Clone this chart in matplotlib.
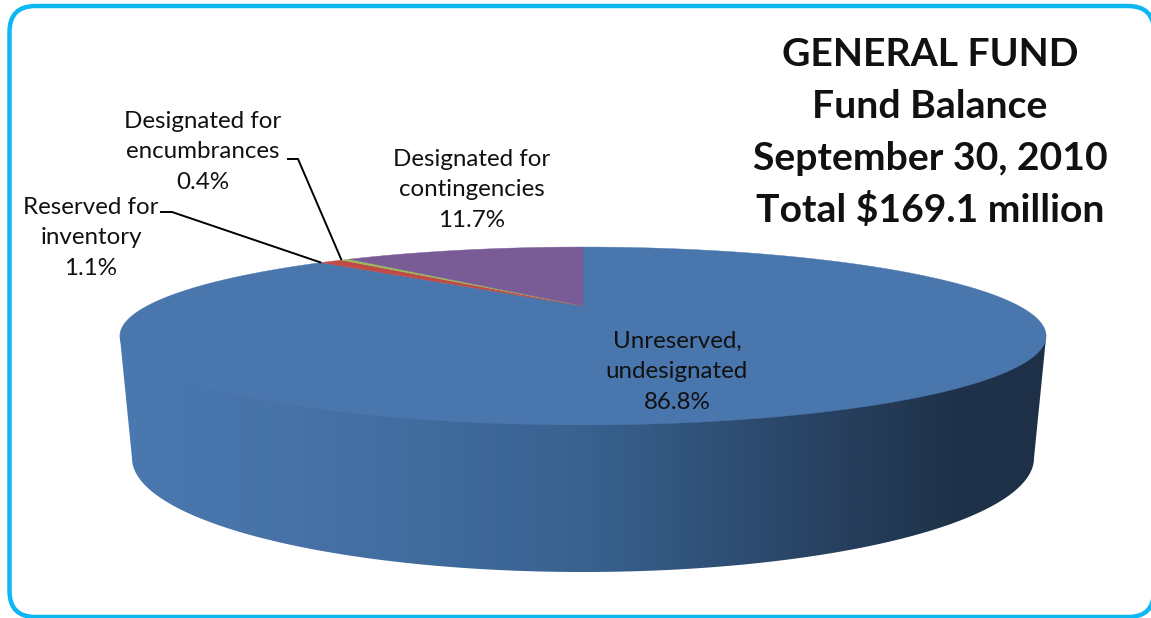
import numpy as np
import matplotlib
matplotlib.use("Agg")
import matplotlib.pyplot as plt
from matplotlib.colors import LinearSegmentedColormap
from matplotlib.patches import FancyBboxPatch, Polygon

plt.rcParams['font.family'] = ['Lato', 'DejaVu Sans']

# slices go clockwise from the top of the pie
categories = ["Unreserved,\nundesignated", "Reserved for\ninventory",
              "Designated for\nencumbrances", "Designated for\ncontingencies"]
shares = [86.8, 1.1, 0.4, 11.7]
colors = ["#4A76AE", "#BE4B48", "#9BBB59", "#795C95"]
title_lines = ["GENERAL FUND", "Fund Balance", "September 30, 2010", "Total $169.1 million"]

# where the labels sit, in pixels
label_pos = [(677, 372), (91, 238), (203, 152), (472, 190)]

cx = 583
k = 60 / 178
radius_x = 436


def project(theta):
    # unit circle seen in perspective, theta clockwise from the back of the pie
    x = np.sin(theta)
    y = np.cos(theta)
    d = 1 + k * y
    return cx + radius_x * x / d, (306 + 24.3 * y) / d


fig = plt.figure(figsize=(11.51, 6.18), dpi=100)
ax = fig.add_axes([0, 0, 1, 1])

# frame
frame = FancyBboxPatch((9.5, 6), 1144.5, 611, boxstyle="round,pad=0,rounding_size=26",
                       fc='white', ec='#0DB7F2', lw=3.2)
ax.add_patch(frame)

# side wall, from the widest points of the top face down to a smaller bottom ellipse
bt = np.linspace(0, np.pi, 300)
bx = 583 + 451 * np.cos(bt)
by = 458 + 114 * np.sin(bt)
wall = Polygon(np.r_[np.c_[[1046], [338]], np.c_[bx, by], np.c_[[120], [338]]],
               closed=True, fc='none', ec='none')
ax.add_patch(wall)
shade = LinearSegmentedColormap.from_list("wall", [
    (0.0, "#4A78B0"), (0.2, "#4672A7"), (0.5, "#396290"),
    (0.8, "#253D5A"), (0.9, "#1F3249"), (1.0, "#1E3048")])
img = ax.imshow(np.linspace(0, 1, 512)[None, :], cmap=shade, aspect='auto',
                extent=(115, 1050, 600, 300), zorder=1)
img.set_clip_path(wall)
ax.set_xlim(0, 1151)
ax.set_ylim(618, 0)
ax.axis('off')

# top face
edges = np.radians(np.cumsum([0] + shares) * 3.6)
for start, end, color in zip(edges[:-1], edges[1:], colors):
    px, py = project(np.linspace(start, end, 400))
    ax.add_patch(Polygon(np.r_[[(cx, 306)], np.c_[px, py]], closed=True, fc=color, ec=color,
                         lw=0.3, zorder=2))

# labels
for name, share, (lx, ly) in zip(categories, shares, label_pos):
    ax.text(lx, ly, f"{name}\n{share}%", ha='center', va='center', fontsize=17.4,
            linespacing=1.55, color='#111111', zorder=4)

# leader lines to the rim of the two thin slices
for i, elbow in [(1, [(160, 212), (172, 212)]), (2, [(287, 159), (298, 159)])]:
    ex, ey = project(edges[i])
    pts = np.array(elbow + [(ex, ey)])
    ax.plot(pts[:, 0], pts[:, 1], color='black', lw=1.4, zorder=3, solid_capstyle='butt')

# title
for line, y in zip(title_lines, [55, 107, 158, 210]):
    ax.text(930, y, line, ha='center', va='center', fontsize=28.2, fontweight='bold',
            color='#111111', zorder=4)

fig.savefig("out.png", dpi=100)
